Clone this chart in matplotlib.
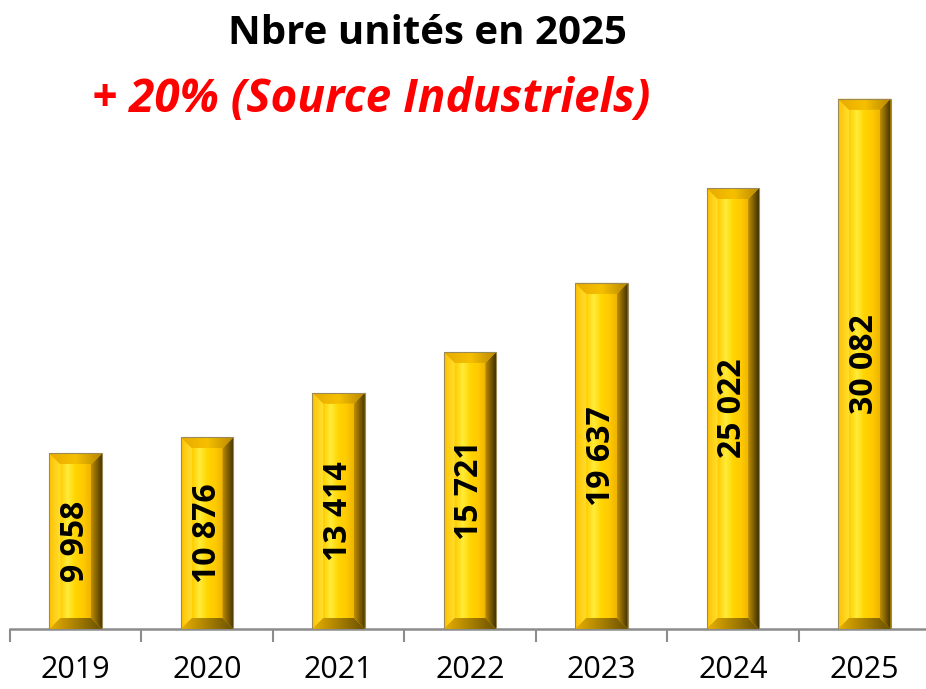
"""
Nbre unités en 2025 - barres biseautées
"""

import numpy as np
import matplotlib.pyplot as plt
from matplotlib.colors import LinearSegmentedColormap
from matplotlib.patches import Polygon

plt.rcParams['font.family'] = ['Open Sans', 'DejaVu Sans']

# Données
years = ['2019', '2020', '2021', '2022', '2023', '2024', '2025']
units = [9958, 10876, 13414, 15721, 19637, 25022, 30082]
labels = ['9 958', '10 876', '13 414', '15 721', '19 637', '25 022', '30 082']

# Couleurs des faces du biseau
face_colors = {
    'center': ['#FFCC00', '#FFEC3A', '#FFD400', '#FFCA00', '#EEB400'],
    'left': ['#FFC000', '#FFE030'],
    'right': ['#C08E00', '#403000'],
    'top': ['#E8AA00', '#F6C000', '#B88600'],
    'bottom': ['#E8B000', '#6A5000'],
}


def grad_fill(ax, verts, colors, z=3):
    """Remplit un polygone avec un dégradé horizontal"""
    verts = np.asarray(verts)
    poly = Polygon(verts, closed=True, facecolor='none', edgecolor='none')
    ax.add_patch(poly)
    cmap = LinearSegmentedColormap.from_list('g', colors)
    im = ax.imshow(np.linspace(0, 1, 256)[None, :], cmap=cmap, aspect='auto',
                   extent=(verts[:, 0].min(), verts[:, 0].max(),
                           verts[:, 1].min(), verts[:, 1].max()),
                   interpolation='bilinear', zorder=z)
    im.set_clip_path(poly)


fig = plt.figure(figsize=(9.26, 6.89), dpi=100)
ax = fig.add_axes([10 / 926, 60 / 689, 920 / 926, 564 / 689])

x = np.arange(len(years))
bars = ax.bar(x, units, width=0.40, color='#FFC800', edgecolor='none', zorder=2)
ax.set_xlim(-0.5, 6.5)
ax.set_ylim(0, 32000)

# taille du biseau en unités de données
p0 = ax.transData.transform((0, 0))
p1 = ax.transData.transform((1, 1000))
bx = 11 / (p1[0] - p0[0])
by = 11 / (p1[1] - p0[1]) * 1000

for rect, lab in zip(bars, labels):
    x0 = rect.get_x()
    x1 = x0 + rect.get_width()
    h = rect.get_height()
    xi0, xi1, yi0, yi1 = x0 + bx, x1 - bx, by, h - by
    grad_fill(ax, [(xi0, yi0), (xi1, yi0), (xi1, yi1), (xi0, yi1)], face_colors['center'])
    grad_fill(ax, [(x0, 0), (x0, h), (xi0, yi1), (xi0, yi0)], face_colors['left'])
    grad_fill(ax, [(x1, 0), (x1, h), (xi1, yi1), (xi1, yi0)], face_colors['right'])
    grad_fill(ax, [(x0, h), (x1, h), (xi1, yi1), (xi0, yi1)], face_colors['top'])
    grad_fill(ax, [(x0, 0), (x1, 0), (xi1, yi0), (xi0, yi0)], face_colors['bottom'])
    ax.add_patch(plt.Rectangle((x0, 0), x1 - x0, h, facecolor='none',
                               edgecolor='#9A8A5A', linewidth=0.8, zorder=4))
    ax.text((x0 + x1) / 2, h / 2, lab, rotation=90, ha='center', va='center',
            fontsize=23, fontweight='bold', color='black', zorder=5)

ax.set_xlim(-0.5, 6.5)
ax.set_ylim(0, 32000)

# axes
for s in ['top', 'right', 'left']:
    ax.spines[s].set_visible(False)
ax.spines['bottom'].set_color('#8C8C8C')
ax.spines['bottom'].set_linewidth(1.8)
ax.set_yticks([])
ax.set_xticks(x, years)
ax.set_xticks(np.arange(-0.5, 7, 1), minor=True)
ax.tick_params(axis='x', which='major', length=0, labelsize=22, pad=19)
ax.tick_params(axis='x', which='minor', length=9, width=1.5, color='#8C8C8C')

fig.text(427 / 926, 1 - 33 / 689, 'Nbre unités en 2025', ha='center', va='center',
         fontsize=29, fontweight='bold', color='black')
fig.text(371 / 926, 1 - 99 / 689, '+ 20% (Source Industriels)', ha='center', va='center',
         fontsize=33, fontweight='bold', fontstyle='italic', color='#FF0000')

fig.savefig('out.png', dpi=100)
